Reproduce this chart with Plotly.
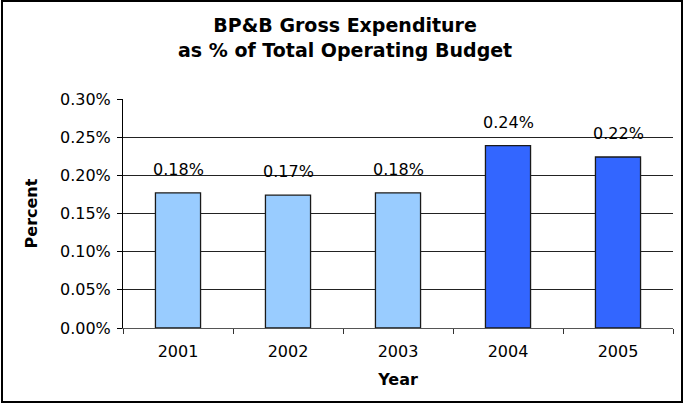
import plotly.graph_objects as go

# Chart data
years = ["2001", "2002", "2003", "2004", "2005"]
share = [0.00177, 0.00174, 0.00177, 0.00239, 0.00224]   # fraction of total operating budget
bar_colors = ["#99CCFF", "#99CCFF", "#99CCFF", "#3366FF", "#3366FF"]
y_ticks = [0, 0.0005, 0.001, 0.0015, 0.002, 0.0025, 0.003]

W, H = 685, 404
ML, MR, MT, MB = 123, 12, 99, 76
PW, PH = W - ML - MR, H - MT - MB

FAMILY = "DejaVu Sans, Verdana, sans-serif"
tick_font = dict(family=FAMILY, size=16, color="#000")
bold_font = dict(family=FAMILY, size=16, color="#000", weight="bold")

fig = go.Figure(
    go.Bar(
        x=years,
        y=share,
        marker=dict(color=bar_colors, line=dict(color="#1a1a1a", width=1.3)),
        width=0.41,
        hoverinfo="skip",
    )
)

# Value labels above each bar (x given as category index)
for i, v in enumerate(share):
    fig.add_annotation(
        x=i, y=v, text=f"{v:.2%}", showarrow=False,
        yanchor="bottom", yshift=12, font=tick_font,
    )

# Two-line chart title, centred on the whole figure
fig.add_annotation(
    text="BP&B Gross Expenditure<br>as % of Total Operating Budget",
    xref="paper", yref="paper",
    x=(W / 2 + 2 - ML) / PW, y=(PH + MT - 38) / PH,
    xanchor="center", yanchor="middle", showarrow=False,
    font=dict(family=FAMILY, size=19, color="#000", weight="bold"),
)

# Outer frame around the whole chart
fig.add_shape(
    type="rect", xref="paper", yref="paper",
    x0=(2 - ML) / PW, x1=(682 - ML) / PW,
    y0=-(H - 2 - MT - PH) / PH, y1=(MT - 1 + PH) / PH,
    line=dict(color="#000", width=2), fillcolor="rgba(0,0,0,0)", layer="above",
)

fig.update_layout(
    width=W, height=H,
    margin=dict(l=ML, r=MR, t=MT, b=MB),
    paper_bgcolor="#fff", plot_bgcolor="#fff",
    showlegend=False,
    xaxis=dict(
        type="category", range=[-0.5, len(years) - 0.5],
        showline=True, linecolor="#555", linewidth=1,
        ticks="outside", ticklen=5, tickcolor="#333", tickson="boundaries",
        tickfont=tick_font, ticklabelstandoff=9, showgrid=False,
        title=dict(text="Year", font=bold_font, standoff=13),
    ),
    yaxis=dict(
        range=[0, 0.003],
        tickvals=y_ticks, tickformat=".2%",
        showline=True, linecolor="#000", linewidth=1,
        ticks="outside", ticklen=5, tickcolor="#000",
        showgrid=True, gridcolor="#222", gridwidth=1,
        zeroline=False,
        tickfont=tick_font, ticklabelstandoff=3,
        title=dict(text="Percent", font=bold_font, standoff=18),
    ),
)

fig.write_html("out.html")
